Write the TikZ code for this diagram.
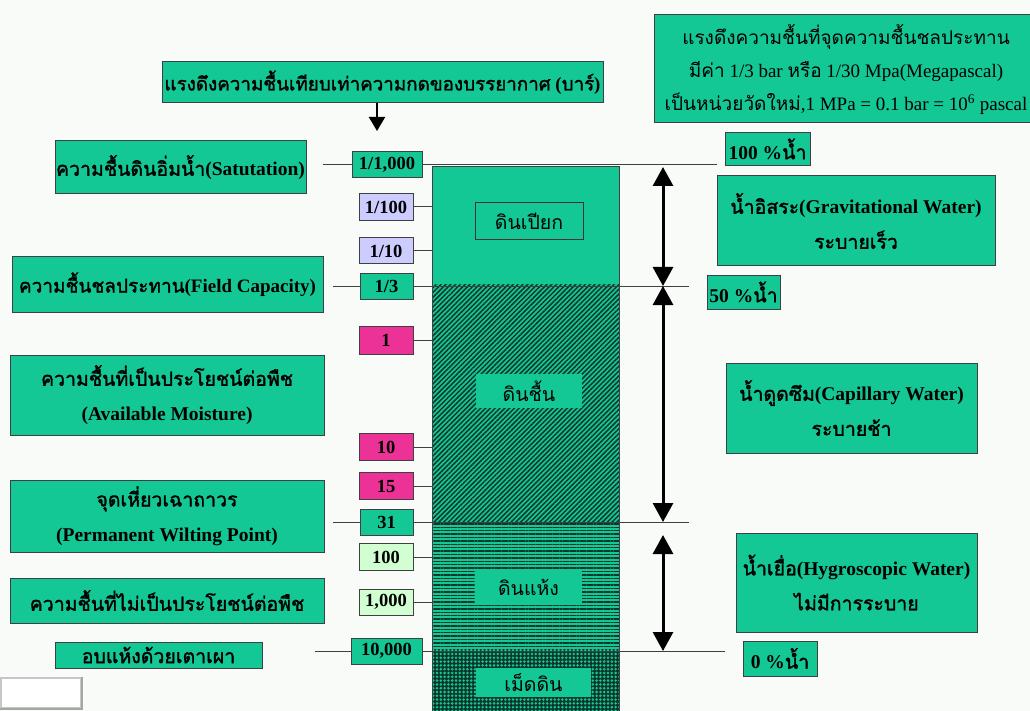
\documentclass[tikz,border=0pt]{standalone}
\usepackage{fontspec}
\setmainfont{Liberation Serif}
\newfontfamily\tf[Script=Thai, BoldFont={Loma}, BoldFeatures={FakeBold=1.6}]{Loma}
\usetikzlibrary{arrows.meta,patterns,patterns.meta}
\definecolor{tg}{RGB}{20,200,150}
\definecolor{lav}{RGB}{204,204,255}
\definecolor{mag}{RGB}{236,50,150}
\definecolor{lgr}{RGB}{210,255,210}
\definecolor{dk}{RGB}{12,55,42}
\definecolor{bgc}{RGB}{248,251,248}
\tikzset{
  gb/.style={draw=black!75, line width=1pt, fill=tg, inner sep=0pt, align=center,
    font=\bfseries\fontsize{19.5}{35}\selectfont},
  vb/.style={gb, font=\bfseries\fontsize{18.5}{20}\selectfont},
  lbl/.style={fill=tg, inner sep=0pt, align=center, font=\fontsize{19.5}{22}\selectfont},
  ln/.style={draw=black!75, line width=1pt},
  dbl/.style={line width=3pt, {Triangle[width=20pt,length=19pt]}-{Triangle[width=20pt,length=19pt]}},
}
\begin{document}
\begin{tikzpicture}[x=1pt,y=-1pt]
\useasboundingbox (0,0) rectangle (1030,711);
\fill[bgc] (0,0) rectangle (1030,711);

% column
\coordinate (colL) at (432,0);
\coordinate (colR) at (619,0);
\fill[tg] (432,167) rectangle (619,284);
\fill[tg] (432,284) rectangle (619,523);
\fill[pattern={Lines[angle=45,distance=3.4pt,line width=1.5pt]}, pattern color=dk] (432,284) rectangle (619,523);
\fill[tg] (432,523) rectangle (619,649);
\fill[pattern={Lines[angle=0,distance=3.4pt,line width=1.4pt]}, pattern color=dk] (432,523) rectangle (619,649);
\fill[dk] (432,649) rectangle (619,711);
\fill[pattern={Dots[distance=3.8pt,radius=1.4pt]}, pattern color=tg] (432,649) rectangle (619,711);
\draw[ln] (432,167) rectangle (619,711);

% column labels
\node[lbl, draw=black!80, line width=1pt, minimum width=108pt, minimum height=37pt] (wet) at (529,221.5) {\tf ดินเปียก};
\node[lbl, minimum width=106pt, minimum height=34pt] (moist) at (529,391) {\tf ดินชื้น};
\node[lbl, minimum width=107pt, minimum height=35pt] (dry) at (528.5,587.5) {\tf ดินแห้ง};
\node[lbl, minimum width=115pt, minimum height=29pt] (seed) at (533.5,682.5) {\tf เม็ดดิน};

% top boxes
\node[gb, font=\fontsize{19}{33}\selectfont, minimum width=384pt, minimum height=108pt] (note) at (846,69)
  {{\tf แรงดึงความชื้นที่จุดความชื้นชลประทาน}\\
   {\tf มีค่า} 1/3 bar {\tf หรือ} 1/30 Mpa(Megapascal)\\
   {\tf เป็นหน่วยวัดใหม่},1 MPa = 0.1 bar = 10\textsuperscript{6} pascal};
\node[gb, font=\bfseries\fontsize{18.8}{22}\selectfont, minimum width=441pt, minimum height=41pt] (head) at (382.5,82.5)
  {{\tf แรงดึงความชื้นเทียบเท่าความกดของบรรยากาศ} ({\tf บาร์})};
\coordinate (headTip) at (377,131);
\draw[line width=2pt, -{Triangle[width=16pt,length=14pt]}] (head.south -| headTip) -- (headTip);

% left boxes
\node[gb, minimum width=251pt, minimum height=53pt] (sat) at (180.5,167.5) {{\tf ความชื้นดินอิ่มน้ำ}(Satutation)};
\node[gb, font=\bfseries\fontsize{19}{35}\selectfont, minimum width=311pt, minimum height=55pt] (fc) at (167.5,284.5) {{\tf ความชื้นชลประทาน}(Field Capacity)};
\node[gb, minimum width=314pt, minimum height=80pt] (avail) at (167,395) {{\tf ความชื้นที่เป็นประโยชน์ต่อพืช}\\(Available Moisture)};
\node[gb, minimum width=314pt, minimum height=72pt] (pwp) at (167,516) {{\tf จุดเหี่ยวเฉาถาวร}\\(Permanent Wilting Point)};
\node[gb, minimum width=314pt, minimum height=45pt] (nonav) at (167,600.5) {\tf ความชื้นที่ไม่เป็นประโยชน์ต่อพืช};
\node[gb, minimum width=207pt, minimum height=26pt] (oven) at (158.5,655) {\tf อบแห้งด้วยเตาเผา};

% value boxes
\node[vb, minimum width=70pt, minimum height=26pt] (v1000) at (387,165) {1/1,000};
\node[vb, fill=lav, minimum width=54pt, minimum height=27pt] (v100) at (386,207) {1/100};
\node[vb, fill=lav, minimum width=54pt, minimum height=26pt] (v10) at (386,251) {1/10};
\node[vb, minimum width=53pt, minimum height=26pt] (v3) at (386.5,286) {1/3};
\node[vb, fill=mag, minimum width=54pt, minimum height=28pt] (v1) at (386,340) {1};
\node[vb, fill=mag, minimum width=54pt, minimum height=27pt] (v10b) at (386,447) {10};
\node[vb, fill=mag, minimum width=54pt, minimum height=27pt] (v15) at (386,486) {15};
\node[vb, minimum width=53pt, minimum height=26pt] (v31) at (386.5,522) {31};
\node[vb, fill=lgr, minimum width=54pt, minimum height=27pt] (v100b) at (386,557) {100};
\node[vb, fill=lgr, minimum width=54pt, minimum height=26pt] (v1000b) at (386,602) {1,000};
\node[vb, minimum width=71pt, minimum height=26pt] (v10000) at (386.5,651) {10,000};

% right boxes
\node[gb, minimum width=85pt, minimum height=33pt] (p100) at (767.5,149) {100 \%{\tf น้ำ}};
\node[gb, minimum width=278pt, minimum height=90pt] (grav) at (856,221) {{\tf น้ำอิสระ}(Gravitational Water)\\{\tf ระบายเร็ว}};
\node[gb, minimum width=73pt, minimum height=34pt] (p50) at (743.5,292) {50 \%{\tf น้ำ}};
\node[gb, minimum width=251pt, minimum height=90pt] (cap) at (851.5,408) {{\tf น้ำดูดซึม}(Capillary Water)\\{\tf ระบายช้า}};
\node[gb, minimum width=241pt, minimum height=99pt] (hyg) at (856.5,582.5) {{\tf น้ำเยื่อ}(Hygroscopic Water)\\{\tf ไม่มีการระบาย}};
\node[gb, minimum width=74pt, minimum height=35pt] (p0) at (780,658.5) {0 \%{\tf น้ำ}};

% connector lines
\coordinate (r1) at (717,167);
\coordinate (r2) at (689,284);
\coordinate (r3) at (689,523);
\coordinate (r4) at (725,649);
\draw[ln] (v1000.west) -- ++(-29,0);
\draw[ln] (v1000.east) -- (v1000.east -| r1);
\draw[ln] (v100.east) -- (v100.east -| colL);
\draw[ln] (v10.east) -- (v10.east -| colL);
\draw[ln] (v3.west) -- ++(-27,0);
\draw[ln] (v3.east) -- (v3.east -| r2);
\draw[ln] (v1.east) -- (v1.east -| colL);
\draw[ln] (v10b.east) -- (v10b.east -| colL);
\draw[ln] (v15.east) -- (v15.east -| colL);
\draw[ln] (v31.west) -- ++(-27,0);
\draw[ln] (v31.east) -- (v31.east -| r3);
\draw[ln] (v100b.east) -- (v100b.east -| colL);
\draw[ln] (v1000b.east) -- (v1000b.east -| colL);
\draw[ln] (v10000.west) -- ++(-36,0);
\draw[ln] (v10000.east) -- (v10000.east -| r4);

% arrows
\coordinate (a1) at (663,167);
\coordinate (a2) at (663,286);
\coordinate (a3) at (663,522);
\coordinate (a4) at (663,535);
\coordinate (a5) at (663,651);
\draw[dbl] (a1) -- (a2);
\draw[dbl] (a2) -- (a3);
\draw[dbl] (a4) -- (a5);

% small blank box
\node[draw=gray!45, line width=1.2pt, fill=white, minimum width=80pt, minimum height=30pt, inner sep=0pt] (blank) at (41,693) {};
\draw[gray!70, line width=2pt] (blank.north east) -- (blank.south east) -- (blank.south west);
\end{tikzpicture}
\end{document}
